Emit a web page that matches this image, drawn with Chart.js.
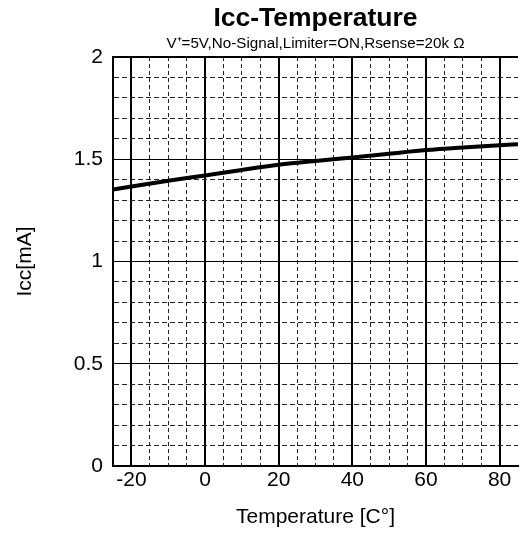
<!DOCTYPE html>
<html>
<head>
<meta charset="utf-8">
<title>Icc-Temperature</title>
<script src="https://cdn.jsdelivr.net/npm/chart.js@4.4.1/dist/chart.umd.min.js"></script>
<style>
  html, body { margin: 0; padding: 0; background: #fff; }
  #chart-wrap { width: 520px; height: 541px; overflow: hidden; }
</style>
</head>
<body>
<div id="chart-wrap"><canvas id="icc-temperature" width="520" height="541"></canvas></div>
<script>
// values
const temperatures = [-25, -20, -10, 0, 10, 20, 30, 40, 50, 60, 70, 80, 85];
const iccValues = [1.352, 1.367, 1.395, 1.421, 1.448, 1.473, 1.492, 1.509, 1.527, 1.545, 1.558, 1.569, 1.574];

// axis ranges and labelled ticks
const xRange = [-25, 85];
const yRange = [0, 2];
const xMajorTicks = [-20, 0, 20, 40, 60, 80];
const yMajorTicks = [0, 0.5, 1, 1.5, 2];

const FONT = "'Liberation Sans', Arial, Helvetica, sans-serif";

const isMajor = (list, v) => list.some(m => Math.abs(m - v) < 1e-6);

function createIccChart() {
  const ctx = document.getElementById("icc-temperature").getContext("2d");

  return new Chart(ctx, {
    type: "line",
    data: {
      datasets: [
        {
          label: "Icc",
          data: temperatures.map((t, i) => ({ x: t, y: iccValues[i] })),
          borderColor: "#000",
          borderWidth: 4,
          pointRadius: 0,
          fill: false,
          cubicInterpolationMode: "monotone"
        }
      ]
    },
    options: {
      responsive: false,
      animation: false,
      devicePixelRatio: 1,
      layout: { padding: 0 },
      plugins: {
        legend: { display: false },
        tooltip: { enabled: false },
        title: {
          display: true,
          text: "Icc-Temperature",
          fullSize: false,
          color: "#000",
          font: { family: FONT, size: 26.5, weight: "bold" },
          padding: { top: 3, bottom: 0 }
        },
        subtitle: {
          display: true,
          text: "V\u207A=5V,No-Signal,Limiter=ON,Rsense=20k \u03A9",
          fullSize: false,
          color: "#000",
          font: { family: FONT, size: 15.2 },
          padding: { top: 0, bottom: 4 }
        }
      },
      scales: {
        x: {
          type: "linear",
          min: xRange[0],
          max: xRange[1],
          afterFit: scale => { scale.height = 75; },
          ticks: {
            stepSize: 5,
            autoSkip: false,
            maxRotation: 0,
            padding: 2,
            color: "#000",
            font: { family: FONT, size: 21 },
            callback: v => (isMajor(xMajorTicks, v) ? String(v) : "")
          },
          grid: {
            drawTicks: false,
            color: c => {
              const v = c.tick.value;
              if (v === xRange[0] || v === xRange[1]) return "rgba(0,0,0,0)";
              return isMajor(xMajorTicks, v) ? "#000" : "#222";
            },
            lineWidth: c => (isMajor(xMajorTicks, c.tick.value) ? 2 : 1)
          },
          border: {
            display: true,
            color: "#000",
            width: 2,
            dash: c => (c.tick && !isMajor(xMajorTicks, c.tick.value) ? [4, 3] : [])
          },
          title: {
            display: true,
            text: "Temperature [C\u00B0]",
            color: "#000",
            font: { family: FONT, size: 21 },
            padding: { top: 0, bottom: 11.4 }
          }
        },
        y: {
          min: yRange[0],
          max: yRange[1],
          afterFit: scale => { scale.width = 113; },
          ticks: {
            stepSize: 0.1,
            autoSkip: false,
            padding: 10,
            color: "#000",
            font: { family: FONT, size: 21 },
            callback: v => (isMajor(yMajorTicks, v) ? String(Math.round(v * 10) / 10) : "")
          },
          grid: {
            drawTicks: false,
            color: c => {
              const v = c.tick.value;
              if (Math.abs(v - yRange[0]) < 1e-6) return "rgba(0,0,0,0)";
              return isMajor(yMajorTicks, v) ? "#000" : "#222";
            },
            lineWidth: c => (Math.abs(c.tick.value - yRange[1]) < 1e-6 ? 2 : 1)
          },
          border: {
            display: true,
            color: "#000",
            width: 2,
            dash: c => (c.tick && !isMajor(yMajorTicks, c.tick.value) ? [5, 3] : [])
          },
          title: {
            display: true,
            text: "Icc[mA]",
            color: "#000",
            font: { family: FONT, size: 21 },
            padding: { top: 12.5, bottom: 0 }
          }
        }
      }
    }
  });
}

const iccChart = createIccChart();
</script>
</body>
</html>
